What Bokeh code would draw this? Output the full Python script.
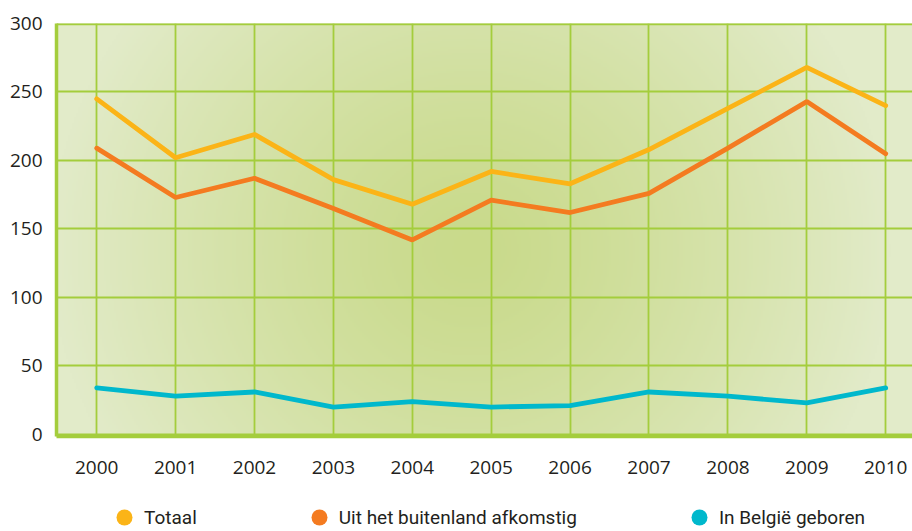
import numpy as np
from bokeh.plotting import figure
from bokeh.layouts import column
from bokeh.models import Range1d, FixedTicker, Legend, LegendItem, Span, ColumnDataSource
from bokeh.embed import file_html
from bokeh.resources import INLINE

years = [2000, 2001, 2002, 2003, 2004, 2005, 2006, 2007, 2008, 2009, 2010]
totaal = [245, 202, 219, 186, 168, 192, 183, 208, 238, 268, 240]
buitenland = [209, 173, 187, 165, 142, 171, 162, 176, 209, 243, 205]
belgie = [34, 28, 31, 20, 24, 20, 21, 31, 28, 23, 34]
y_ticks = [0, 50, 100, 150, 200, 250, 300]
labels = ["Totaal", "Uit het buitenland afkomstig", "In België geboren"]
colors = ["#fbb417", "#f47b20", "#00b8cc"]

GREEN = "#a4cd3c"
TEXT = "#231f20"

x0, x1 = 1999.49, 2010.34
y0, y1 = -1.5, 300

p = figure(width=912, height=490, x_range=Range1d(x0, x1), y_range=Range1d(y0, y1),
           output_backend="svg", toolbar_location=None,
           min_border_left=56, min_border_right=0, min_border_top=23, min_border_bottom=54)
p.outline_line_color = None
p.background_fill_color = "#d6e3ab"
p.border_fill_color = "white"

# radial gradient background
W, H = 428, 207
xs = np.linspace(0, 856, W)
ys = np.linspace(0, 413, H)  # row 0 is bottom
X, Y = np.meshgrid(xs, ys)
cx, cy = 414, 186
r = np.sqrt((X - cx) ** 2 + ((Y - cy) * 1.05) ** 2)
t = np.clip(r / 420.0, 0, 1) ** 1.3
c = np.array([201, 218, 139], dtype=float)
e = np.array([226, 235, 201], dtype=float)
rgb = c[None, None, :] + (e - c)[None, None, :] * t[:, :, None]
img = np.empty((H, W), dtype=np.uint32)
view = img.view(dtype=np.uint8).reshape((H, W, 4))
view[:, :, 0] = rgb[:, :, 0].astype(np.uint8)
view[:, :, 1] = rgb[:, :, 1].astype(np.uint8)
view[:, :, 2] = rgb[:, :, 2].astype(np.uint8)
view[:, :, 3] = 255
bg = p.image_rgba(image=[img], x=x0, y=y0, dw=x1 - x0, dh=y1 - y0)
bg.level = "image"

# grid
p.xgrid.ticker = FixedTicker(ticks=years)
p.ygrid.ticker = FixedTicker(ticks=y_ticks)
for g in (p.xgrid[0], p.ygrid[0]):
    g.grid_line_color = GREEN
    g.grid_line_width = 1.8
    g.level = "underlay"

# axes
p.xaxis.ticker = FixedTicker(ticks=years)
p.yaxis.ticker = FixedTicker(ticks=y_ticks)
for ax in (p.xaxis[0], p.yaxis[0]):
    ax.axis_line_color = GREEN
    ax.axis_line_width = 3.5
    ax.major_tick_line_color = None
    ax.minor_tick_line_color = None
    ax.major_label_text_font = "Open Sans"
    ax.major_label_text_font_size = "19px"
    ax.major_label_text_color = TEXT
p.xaxis.major_label_standoff = 18
p.yaxis.major_label_standoff = 8

p.add_layout(Span(location=300, dimension="width", line_color=GREEN, line_width=3.5))

series = [totaal, buitenland, belgie]
for vals, col in zip(series, colors):
    src = ColumnDataSource(dict(x=years, y=vals))
    p.line("x", "y", source=src, line_color=col, line_width=4.8, line_cap="round")

# legend strip
lf = figure(width=912, height=41, x_range=Range1d(0, 1), y_range=Range1d(0, 1),
            output_backend="svg", toolbar_location=None,
            x_axis_location=None, y_axis_location=None,
            min_border_left=0, min_border_right=0, min_border_top=0, min_border_bottom=0)
lf.outline_line_color = None
lf.xgrid.visible = False
lf.ygrid.visible = False
items = []
for vals, col, lab in zip(series, colors, labels):
    src = ColumnDataSource(dict(x=years, y=vals))
    r_ = lf.scatter("x", "y", source=src, marker="circle", size=0,
                    fill_color=col, line_color=col, line_width=0)
    items.append(LegendItem(label=lab, renderers=[r_]))

legend = Legend(items=items, orientation="horizontal", location=(48, -6),
                spacing=102, label_standoff=-6, glyph_width=40, glyph_height=40,
                label_text_font="Roboto", label_text_font_size="19px",
                label_text_color=TEXT, border_line_alpha=0, background_fill_alpha=0,
                margin=0, padding=0)
lf.add_layout(legend, "center")

open("out.html", "w").write(file_html(column(p, lf, spacing=0), INLINE))
